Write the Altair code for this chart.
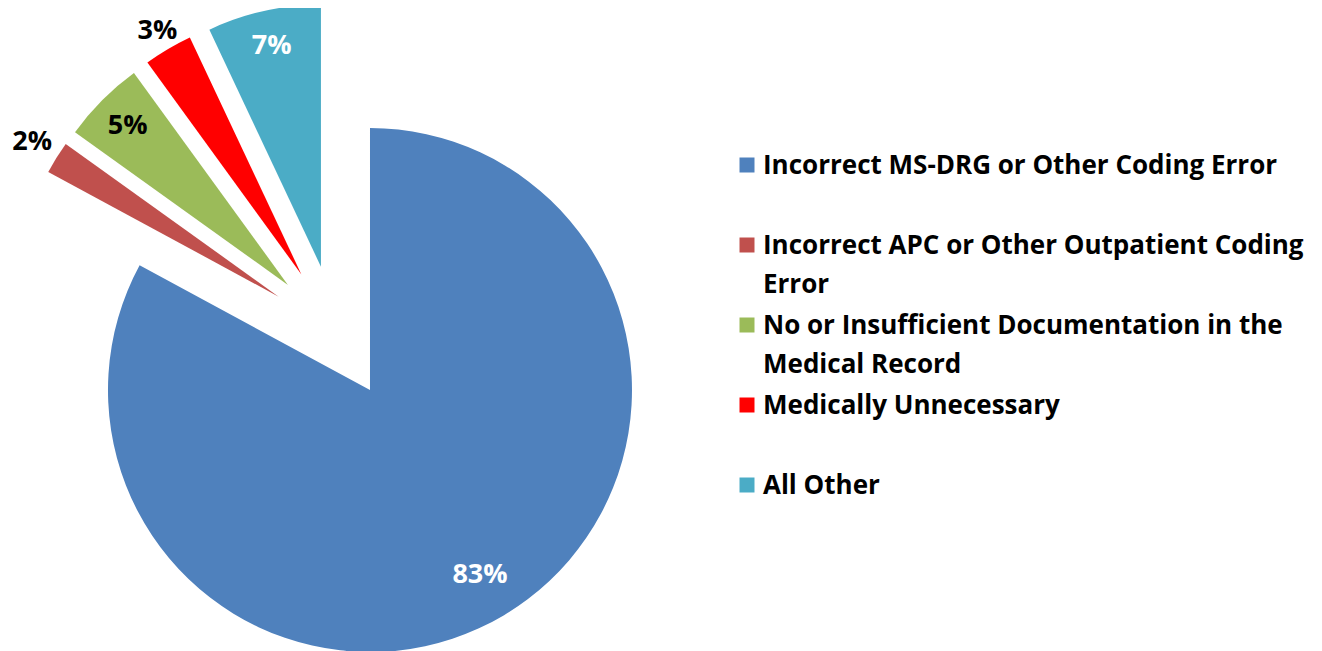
import altair as alt
import pandas as pd

categories = [
    "Incorrect MS-DRG or Other Coding Error",
    "Incorrect APC or Other Outpatient Coding Error",
    "No or Insufficient Documentation in the Medical Record",
    "Medically Unnecessary",
    "All Other",
]
values = [82.9, 2.0, 5.1, 3.0, 7.0]
legend_labels = [
    "Incorrect MS-DRG or Other Coding Error",
    "Incorrect APC or Other Outpatient Coding\nError",
    "No or Insufficient Documentation in the\nMedical Record",
    "Medically Unnecessary",
    "All Other",
]
colors = ["#4F81BD", "#C0504D", "#9BBB59", "#FF0000", "#4BACC6"]

df = pd.DataFrame({
    "category": categories,
    "value": values,
    "legend_label": legend_labels,
    "order": list(range(len(categories))),
})

CX, CY = 327.6, 324.3   # pie centre (px)
R = 262                 # radius
D = 67.2                # explosion distance
FONT = "Open Sans"

color_scale = alt.Scale(domain=categories, range=colors)

base = alt.Chart(df).transform_joinaggregate(
    total="sum(value)"
).transform_window(
    cum="sum(value)", sort=[alt.SortField("order")], frame=[None, 0]
).transform_calculate(
    t1="2*PI*datum.cum/datum.total",
    t0="2*PI*(datum.cum-datum.value)/datum.total",
    mid="(datum.t0+datum.t1)/2",
    cx=f"{CX}+{D}*sin(datum.mid)",
    cy=f"{CY}-{D}*cos(datum.mid)",
    rl=(f"datum.value > 50 ? 215 : datum.value >= 5 ? 226 : "
        f"{R} + 8 + min(19/abs(sin(datum.mid)), 11/abs(cos(datum.mid)))"),
    lx="datum.cx + datum.rl*sin(datum.mid)",
    ly="datum.cy - datum.rl*cos(datum.mid)",
    lab="round(datum.value) + '%'",
)

arcs = base.mark_arc(radius=R).encode(
    theta=alt.Theta("t0:Q", scale=None, stack=None),
    theta2="t1:Q",
    x=alt.X("cx:Q", scale=None, axis=None),
    y=alt.Y("cy:Q", scale=None, axis=None),
    color=alt.Color("category:N", scale=color_scale, legend=None),
)

labels = base.mark_text(
    font=FONT, fontWeight="bold", fontSize=27, align="center", baseline="middle"
).encode(
    x=alt.X("lx:Q", scale=None, axis=None),
    y=alt.Y("ly:Q", scale=None, axis=None),
    text="lab:N",
    color=alt.condition("datum.value > 6", alt.value("white"), alt.value("black")),
)

ypos = alt.Y("order:O", scale=alt.Scale(type="point", range=[157, 477], padding=0), axis=None)

leg_sq = alt.Chart(df).mark_square(size=225, opacity=1).encode(
    x=alt.value(739),
    y=ypos,
    color=alt.Color("category:N", scale=color_scale, legend=None),
)

leg_txt = alt.Chart(df).mark_text(
    font=FONT, fontWeight="bold", fontSize=26, align="left", baseline="alphabetic",
    dy=9, lineBreak="\n", lineHeight=39, color="black",
).encode(
    x=alt.value(755),
    y=ypos,
    text="legend_label:N",
)

pie = alt.layer(arcs, labels)
legend = alt.layer(leg_sq, leg_txt)

chart = alt.layer(pie, legend).resolve_scale(y="independent", x="independent").properties(
    width=1306, height=643, padding=0,
    autosize=alt.AutoSizeParams(type="none"),
).configure_view(stroke=None)

chart.save("out.html", embed_options={"renderer": "svg", "actions": False})
